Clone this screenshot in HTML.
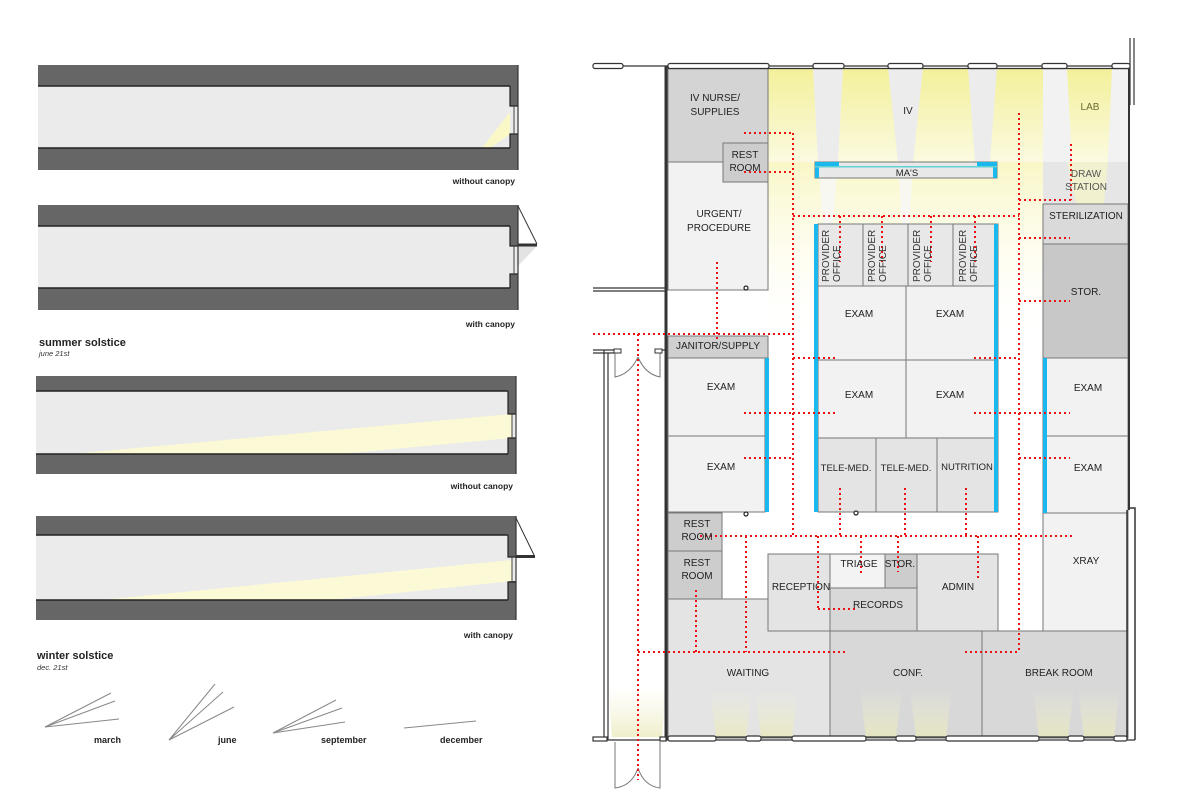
<!DOCTYPE html>
<html><head><meta charset="utf-8"><style>
html,body{margin:0;padding:0;background:#fff;}
svg{display:block;font-family:"Liberation Sans",Arial,sans-serif;}
</style></head><body>
<svg width="1200" height="800" viewBox="0 0 1200 800" xmlns="http://www.w3.org/2000/svg">
<defs>
<linearGradient id="yt" x1="0" y1="0" x2="0" y2="1">
<stop offset="0" stop-color="#f3f09a"/><stop offset="1" stop-color="#fbfae0"/></linearGradient>
<linearGradient id="yf" x1="0" y1="0" x2="0" y2="1">
<stop offset="0" stop-color="#f8f6c0" stop-opacity="0.9"/><stop offset="1" stop-color="#fffef0" stop-opacity="0"/></linearGradient>
<linearGradient id="yb" x1="0" y1="1" x2="0" y2="0">
<stop offset="0" stop-color="#eae9b8" stop-opacity="0.75"/><stop offset="1" stop-color="#f4f3d8" stop-opacity="0"/></linearGradient>
</defs>

<!-- ===== LEFT SECTIONS ===== -->
<g>
<rect x="38" y="65" width="480" height="105" fill="#666"/>
<rect x="38" y="86" width="472" height="62" fill="#ebebeb"/>
<rect x="510" y="106" width="8" height="28" fill="#ebebeb"/>
<polygon points="510,112 510,134 490,148 482,148" fill="#fbf8c8"/>
<line x1="38" y1="86" x2="510" y2="86" stroke="#222" stroke-width="1.5"/>
<line x1="38" y1="148" x2="510" y2="148" stroke="#222" stroke-width="1.5"/>
<polyline points="510,86 510,106 518,106" fill="none" stroke="#222" stroke-width="1.2"/>
<polyline points="510,148 510,134 518,134" fill="none" stroke="#222" stroke-width="1.2"/>
<line x1="514" y1="106" x2="514" y2="134" stroke="#444" stroke-width="1"/>
<line x1="518" y1="65" x2="518" y2="170" stroke="#333" stroke-width="1.2"/>
<text x="515" y="184" font-size="8.5" font-weight="bold" text-anchor="end" fill="#222">without canopy</text>

<rect x="38" y="205" width="480" height="105" fill="#666"/>
<rect x="38" y="226" width="472" height="62" fill="#ebebeb"/>
<rect x="510" y="246" width="8" height="28" fill="#ebebeb"/>
<polygon points="518,246 537,246 518,266" fill="#e3e3e3"/>
<line x1="38" y1="226" x2="510" y2="226" stroke="#222" stroke-width="1.5"/>
<line x1="38" y1="288" x2="510" y2="288" stroke="#222" stroke-width="1.5"/>
<polyline points="510,226 510,246 518,246" fill="none" stroke="#222" stroke-width="1.2"/>
<polyline points="510,288 510,274 518,274" fill="none" stroke="#222" stroke-width="1.2"/>
<line x1="514" y1="246" x2="514" y2="274" stroke="#444" stroke-width="1"/>
<line x1="518" y1="205" x2="518" y2="310" stroke="#333" stroke-width="1.2"/>
<rect x="518" y="243.5" width="19" height="3" fill="#333"/>
<line x1="518" y1="206" x2="537" y2="244" stroke="#333" stroke-width="1"/>
<text x="515" y="327" font-size="8.5" font-weight="bold" text-anchor="end" fill="#222">with canopy</text>
<text x="39" y="346" font-size="11" font-weight="bold" fill="#222">summer solstice</text>
<text x="39" y="356" font-size="7.5" font-style="italic" fill="#333">june 21st</text>

<rect x="36" y="376" width="480" height="98" fill="#666"/>
<rect x="36" y="391" width="472" height="63" fill="#ebebeb"/>
<rect x="508" y="414" width="8" height="24" fill="#ebebeb"/>
<polygon points="512,414 512,438 340,454 70,454" fill="#fcfad6"/>
<line x1="36" y1="391" x2="508" y2="391" stroke="#222" stroke-width="1.5"/>
<line x1="36" y1="454" x2="508" y2="454" stroke="#222" stroke-width="1.5"/>
<polyline points="508,391 508,414 516,414" fill="none" stroke="#222" stroke-width="1.2"/>
<polyline points="508,454 508,438 516,438" fill="none" stroke="#222" stroke-width="1.2"/>
<line x1="512" y1="414" x2="512" y2="438" stroke="#444" stroke-width="1"/>
<line x1="516" y1="376" x2="516" y2="474" stroke="#333" stroke-width="1.2"/>
<text x="513" y="489" font-size="8.5" font-weight="bold" text-anchor="end" fill="#222">without canopy</text>

<rect x="36" y="516" width="480" height="104" fill="#666"/>
<rect x="36" y="535" width="472" height="65" fill="#ebebeb"/>
<rect x="508" y="557" width="8" height="24" fill="#ebebeb"/>
<polygon points="512,560 512,581 330,600 100,600" fill="#fcfad6"/>
<line x1="36" y1="535" x2="508" y2="535" stroke="#222" stroke-width="1.5"/>
<line x1="36" y1="600" x2="508" y2="600" stroke="#222" stroke-width="1.5"/>
<polyline points="508,535 508,557 516,557" fill="none" stroke="#222" stroke-width="1.2"/>
<polyline points="508,600 508,582 516,582" fill="none" stroke="#222" stroke-width="1.2"/>
<line x1="512" y1="557" x2="512" y2="582" stroke="#444" stroke-width="1"/>
<line x1="516" y1="516" x2="516" y2="620" stroke="#333" stroke-width="1.2"/>
<rect x="516" y="555" width="19" height="3" fill="#333"/>
<line x1="516" y1="518" x2="534" y2="555" stroke="#333" stroke-width="1"/>
<text x="513" y="638" font-size="8.5" font-weight="bold" text-anchor="end" fill="#222">with canopy</text>
<text x="37" y="659" font-size="11" font-weight="bold" fill="#222">winter solstice</text>
<text x="37" y="670" font-size="7.5" font-style="italic" fill="#333">dec. 21st</text>

<g stroke="#888" stroke-width="1" fill="none">
<line x1="45" y1="727" x2="111" y2="693"/><line x1="45" y1="727" x2="115" y2="701"/><line x1="45" y1="727" x2="119" y2="719"/>
<line x1="169" y1="740" x2="215" y2="684"/><line x1="169" y1="740" x2="223" y2="692"/><line x1="169" y1="740" x2="234" y2="707"/>
<line x1="273" y1="733" x2="336" y2="700"/><line x1="273" y1="733" x2="342" y2="708"/><line x1="273" y1="733" x2="345" y2="722"/>
<line x1="404" y1="728" x2="476" y2="721"/>
</g>
<g font-size="9" font-weight="bold" fill="#222">
<text x="94" y="743">march</text>
<text x="218" y="743">june</text>
<text x="321" y="743">september</text>
<text x="440" y="743">december</text>
</g>
</g>

<!-- ===== FLOOR PLAN ===== -->
<rect x="768" y="68" width="275" height="94" fill="url(#yt)"/>
<rect x="1043" y="68" width="85" height="94" fill="#f2f2f2"/>
<polygon points="1067,68 1112,68 1108,162 1072,162" fill="url(#yt)"/>
<rect x="1043" y="162" width="85" height="42" fill="#e6e6e6"/>
<polygon points="1067,162 1108,162 1104,204 1076,204" fill="#f1f0cf"/>
<polygon points="768,162 1043,162 1043,330 768,330" fill="url(#yf)"/>
<polygon points="813,68 843,68 838,162 818,162" fill="#ececec"/>
<polygon points="888,68 923,68 913,162 898,162" fill="#ececec"/>
<polygon points="968,68 997,68 990,162 975,162" fill="#ececec"/>
<polygon points="818,162 838,162 832,230 824,230" fill="#f7f7f7" opacity="0.8"/>
<polygon points="898,162 913,162 909,230 902,230" fill="#f7f7f7" opacity="0.8"/>

<g stroke="#777" stroke-width="1">
<rect x="668" y="68" width="100" height="94" fill="#d4d4d4"/>
<rect x="668" y="162" width="100" height="128" fill="#f2f2f2"/>
<rect x="723" y="143" width="45" height="39" fill="#cdcdcd"/>
<rect x="815" y="162" width="182" height="16" fill="#e8e8e8"/>
<rect x="1043" y="204" width="85" height="40" fill="#dadada"/>
<rect x="1043" y="244" width="85" height="114" fill="#c8c8c8"/>
<rect x="1043" y="358" width="85" height="78" fill="#f2f2f2"/>
<rect x="1043" y="436" width="85" height="77" fill="#f2f2f2"/>
<rect x="1043" y="513" width="85" height="119" fill="#f2f2f2"/>
<rect x="818" y="224" width="45" height="62" fill="#e8e8e8"/>
<rect x="863" y="224" width="45" height="62" fill="#e8e8e8"/>
<rect x="908" y="224" width="45" height="62" fill="#e8e8e8"/>
<rect x="953" y="224" width="45" height="62" fill="#e8e8e8"/>
<rect x="818" y="286" width="88" height="74" fill="#f2f2f2"/>
<rect x="906" y="286" width="92" height="74" fill="#f2f2f2"/>
<rect x="818" y="360" width="88" height="78" fill="#f2f2f2"/>
<rect x="906" y="360" width="92" height="78" fill="#f2f2f2"/>
<rect x="818" y="438" width="58" height="74" fill="#e4e4e4"/>
<rect x="876" y="438" width="61" height="74" fill="#e4e4e4"/>
<rect x="937" y="438" width="61" height="74" fill="#e4e4e4"/>
<rect x="668" y="336" width="100" height="22" fill="#d0d0d0"/>
<rect x="668" y="358" width="97" height="78" fill="#f2f2f2"/>
<rect x="668" y="436" width="97" height="76" fill="#f2f2f2"/>
<rect x="668" y="513" width="54" height="38" fill="#cdcdcd"/>
<rect x="668" y="551" width="54" height="48" fill="#cdcdcd"/>
<polygon points="668,599 768,599 768,631 830,631 830,738 668,738" fill="#e4e4e4"/>
<rect x="768" y="554" width="62" height="77" fill="#e4e4e4"/>
<rect x="830" y="554" width="55" height="34" fill="#f3f3f3"/>
<rect x="885" y="554" width="32" height="34" fill="#cdcdcd"/>
<rect x="830" y="588" width="87" height="43" fill="#d8d8d8"/>
<rect x="917" y="554" width="81" height="77" fill="#e4e4e4"/>
<rect x="830" y="631" width="152" height="107" fill="#d8d8d8"/>
<rect x="982" y="631" width="146" height="107" fill="#d8d8d8"/>
</g>

<g fill="url(#yb)">
<polygon points="716,737 746,737 752,690 710,690"/>
<polygon points="761,737 792,737 798,690 755,690"/>
<polygon points="866,737 896,737 902,690 860,690"/>
<polygon points="916,737 946,737 952,690 910,690"/>
<polygon points="1039,737 1068,737 1074,690 1033,690"/>
<polygon points="1084,737 1114,737 1120,690 1078,690"/>
<polygon points="612,737 662,737 666,685 608,685"/>
</g>

<g fill="#1ab8ec">
<rect x="815" y="162" width="4" height="16"/><rect x="993" y="162" width="4" height="16"/>
<rect x="819" y="162" width="20" height="4"/><rect x="977" y="162" width="16" height="4"/>
<rect x="814" y="224" width="4" height="288"/>
<rect x="994" y="224" width="4" height="288"/>
<rect x="765" y="358" width="4" height="154"/>
<rect x="1043" y="358" width="4" height="155"/>
</g>
<rect x="815" y="166" width="182" height="1.5" fill="#5fd0d8"/>

<g stroke="#333" fill="none">
<line x1="593" y1="66" x2="1130" y2="66" stroke-width="1.2"/>
<line x1="668" y1="68.5" x2="1128" y2="68.5" stroke-width="1.2"/>
<line x1="666" y1="66" x2="666" y2="740" stroke-width="3"/>
<line x1="1129" y1="66" x2="1129" y2="510" stroke-width="2"/>
<line x1="1127" y1="510" x2="1127" y2="740" stroke-width="1.5"/>
<polyline points="1130,508 1135,508 1135,740" stroke-width="1.5"/>
<line x1="1130" y1="38" x2="1130" y2="105" stroke-width="1.2"/>
<line x1="1134" y1="38" x2="1134" y2="105" stroke-width="1.2"/>
<line x1="593" y1="288" x2="666" y2="288" stroke-width="1.2"/>
<line x1="593" y1="291" x2="666" y2="291" stroke-width="1.2"/>
<line x1="593" y1="350" x2="614" y2="350" stroke-width="1.2"/>
<line x1="593" y1="353" x2="614" y2="353" stroke-width="1.2"/>
<line x1="604" y1="350" x2="604" y2="740" stroke-width="1.2"/>
<line x1="608" y1="353" x2="608" y2="740" stroke-width="1.2"/>
<line x1="660" y1="350" x2="666" y2="350" stroke-width="1.2"/>
<line x1="668" y1="737" x2="1127" y2="737" stroke-width="1.2"/>
<line x1="593" y1="740" x2="1135" y2="740" stroke-width="1.2"/>
</g>
<g stroke="#777" fill="none" stroke-width="1">
<path d="M615,352 L615,377 Q630,374 638,357"/>
<path d="M660,352 L660,377 Q645,374 638,357"/>
<path d="M615,742 L615,788 Q632,786 638,768"/>
<path d="M660,742 L660,788 Q644,786 638,768"/>
<rect x="614" y="349" width="7" height="4" fill="#fff" stroke="#333"/>
<rect x="655" y="349" width="7" height="4" fill="#fff" stroke="#333"/>
</g>
<g fill="#fff" stroke="#333" stroke-width="1.2">
<rect x="593" y="63.5" width="30" height="5" rx="2"/>
<rect x="668" y="63.5" width="101" height="5" rx="2"/>
<rect x="813" y="63.5" width="31" height="5" rx="2"/>
<rect x="888" y="63.5" width="35" height="5" rx="2"/>
<rect x="968" y="63.5" width="29" height="5" rx="2"/>
<rect x="1042" y="63.5" width="25" height="5" rx="2"/>
<rect x="1112" y="63.5" width="18" height="5" rx="2"/>
<rect x="668" y="736" width="48" height="5" rx="2"/>
<rect x="746" y="736" width="15" height="5" rx="2"/>
<rect x="792" y="736" width="74" height="5" rx="2"/>
<rect x="896" y="736" width="20" height="5" rx="2"/>
<rect x="946" y="736" width="93" height="5" rx="2"/>
<rect x="1068" y="736" width="16" height="5" rx="2"/>
<rect x="1114" y="736" width="13" height="5" rx="2"/>
<rect x="593" y="737" width="14" height="4" fill="#fff"/>
<rect x="660" y="737" width="6" height="4" fill="#fff"/>
</g>
<g fill="#fff" stroke="#222" stroke-width="1.2">
<circle cx="746" cy="288" r="2"/><circle cx="746" cy="514" r="2"/><circle cx="856" cy="513" r="2"/>
</g>

<g stroke="#ee1111" stroke-width="2" stroke-dasharray="2,3" fill="none">
<line x1="744" y1="133" x2="793" y2="133"/>
<line x1="744" y1="172" x2="793" y2="172"/>
<line x1="793" y1="133" x2="793" y2="536"/>
<line x1="793" y1="216" x2="1019" y2="216"/>
<line x1="1019" y1="113" x2="1019" y2="652"/>
<line x1="1019" y1="200" x2="1072" y2="200"/>
<line x1="1019" y1="238" x2="1070" y2="238"/>
<line x1="1019" y1="301" x2="1070" y2="301"/>
<line x1="1071" y1="144" x2="1071" y2="200"/>
<line x1="593" y1="334" x2="793" y2="334"/>
<line x1="638" y1="334" x2="638" y2="780"/>
<line x1="717" y1="262" x2="717" y2="340"/>
<line x1="793" y1="358" x2="838" y2="358"/>
<line x1="974" y1="358" x2="1019" y2="358"/>
<line x1="793" y1="413" x2="838" y2="413"/>
<line x1="974" y1="413" x2="1019" y2="413"/>
<line x1="744" y1="413" x2="793" y2="413"/>
<line x1="744" y1="458" x2="793" y2="458"/>
<line x1="1019" y1="413" x2="1070" y2="413"/>
<line x1="1019" y1="458" x2="1070" y2="458"/>
<line x1="840" y1="216" x2="840" y2="262"/>
<line x1="882" y1="216" x2="882" y2="262"/>
<line x1="931" y1="216" x2="931" y2="262"/>
<line x1="975" y1="216" x2="975" y2="262"/>
<line x1="700" y1="536" x2="1072" y2="536"/>
<line x1="746" y1="536" x2="746" y2="652"/>
<line x1="696" y1="590" x2="696" y2="652"/>
<line x1="638" y1="652" x2="848" y2="652"/>
<line x1="965" y1="652" x2="1019" y2="652"/>
<line x1="818" y1="536" x2="818" y2="609"/>
<line x1="818" y1="609" x2="858" y2="609"/>
<line x1="861" y1="536" x2="861" y2="573"/>
<line x1="898" y1="536" x2="898" y2="572"/>
<line x1="978" y1="536" x2="978" y2="581"/>
<line x1="840" y1="488" x2="840" y2="536"/>
<line x1="905" y1="488" x2="905" y2="536"/>
<line x1="966" y1="488" x2="966" y2="536"/>
</g>

<g font-size="10" fill="#222" text-anchor="middle">
<text x="715" y="101">IV NURSE/</text><text x="715" y="115">SUPPLIES</text>
<text x="745" y="158">REST</text><text x="745" y="171">ROOM</text>
<text x="908" y="114">IV</text>
<text x="1090" y="110" fill="#6b6a30">LAB</text>
<text x="907" y="176" font-size="9.5">MA'S</text>
<text x="1086" y="177" fill="#555">DRAW</text><text x="1086" y="190" fill="#555">STATION</text>
<text x="1086" y="219">STERILIZATION</text>
<text x="1086" y="295">STOR.</text>
<text x="719" y="217">URGENT/</text><text x="719" y="231">PROCEDURE</text>
<text x="718" y="349">JANITOR/SUPPLY</text>
<text x="721" y="390">EXAM</text>
<text x="721" y="470">EXAM</text>
<text x="859" y="317">EXAM</text><text x="950" y="317">EXAM</text>
<text x="859" y="398">EXAM</text><text x="950" y="398">EXAM</text>
<text x="1088" y="391">EXAM</text>
<text x="1088" y="471">EXAM</text>
<text x="1086" y="564">XRAY</text>
<text x="846" y="471" font-size="9.5">TELE-MED.</text>
<text x="906" y="471" font-size="9.5">TELE-MED.</text>
<text x="967" y="470" font-size="9.5">NUTRITION</text>
<text x="697" y="527">REST</text><text x="697" y="540">ROOM</text>
<text x="697" y="566">REST</text><text x="697" y="579">ROOM</text>
<text x="801" y="590">RECEPTION</text>
<text x="859" y="567">TRIAGE</text>
<text x="900" y="567">STOR.</text>
<text x="878" y="608">RECORDS</text>
<text x="958" y="590">ADMIN</text>
<text x="748" y="676">WAITING</text>
<text x="908" y="676">CONF.</text>
<text x="1059" y="676">BREAK ROOM</text>
</g>
<g font-size="10" fill="#333">
<text transform="translate(829,282) rotate(-90)">PROVIDER</text><text transform="translate(840,282) rotate(-90)">OFFICE</text>
<text transform="translate(875,282) rotate(-90)">PROVIDER</text><text transform="translate(886,282) rotate(-90)">OFFICE</text>
<text transform="translate(920,282) rotate(-90)">PROVIDER</text><text transform="translate(931,282) rotate(-90)">OFFICE</text>
<text transform="translate(966,282) rotate(-90)">PROVIDER</text><text transform="translate(977,282) rotate(-90)">OFFICE</text>
</g>
</svg>
</body></html>
